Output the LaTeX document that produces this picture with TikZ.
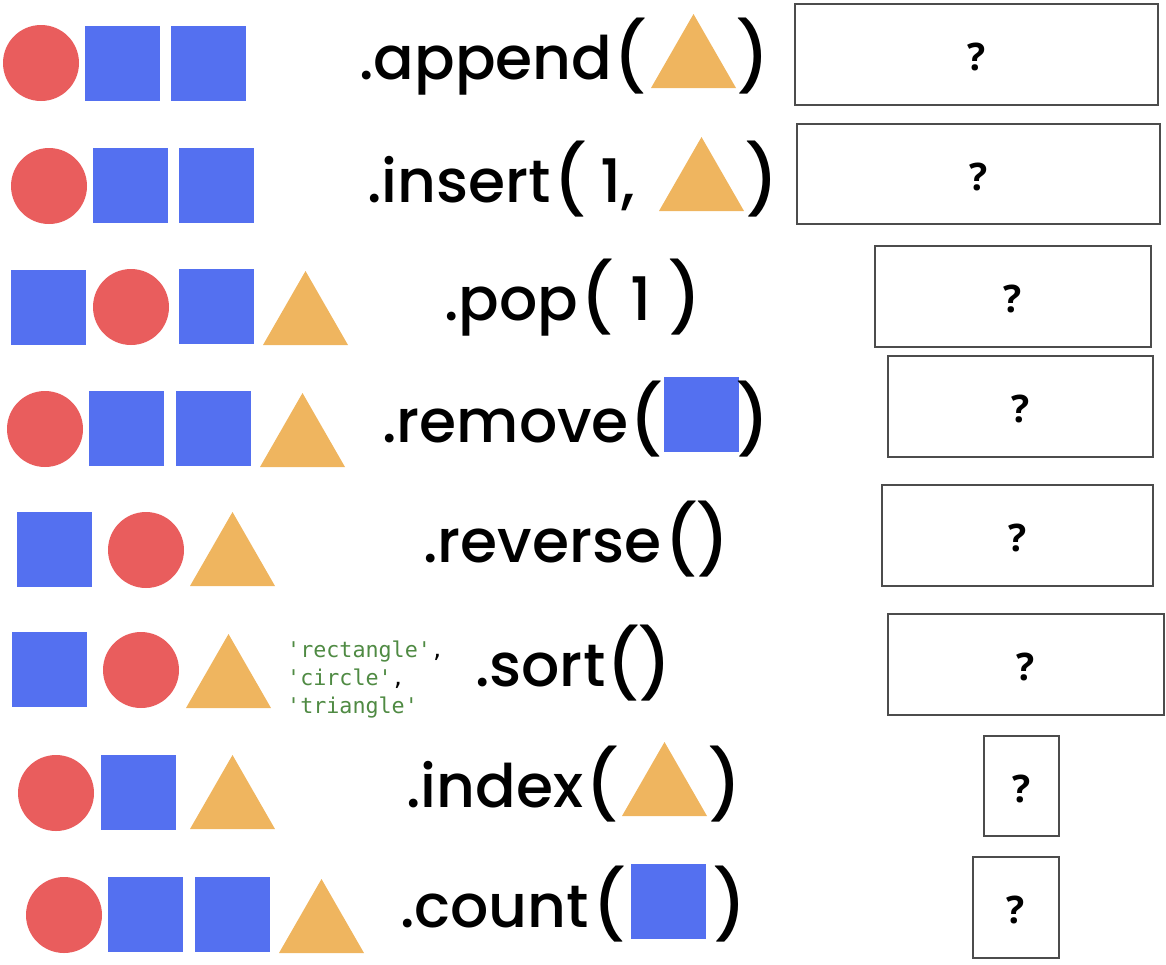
\documentclass[tikz,border=0pt]{standalone}
\usepackage{fontspec}
\setmainfont{Poppins Medium}
\newfontfamily\qfont{Open Sans}
\setmonofont{DejaVu Sans Mono}
\definecolor{shapered}{HTML}{E95D5D}
\definecolor{shapeblue}{HTML}{5470F0}
\definecolor{shapeyellow}{HTML}{EFB55F}
\definecolor{codegreen}{HTML}{4F8A43}
\tikzset{
  method/.style={anchor=base west,inner sep=0pt,font=\fontsize{60}{60}\selectfont,text=black},
  paren/.style={anchor=base west,inner sep=0pt,font=\fontsize{68}{68}\selectfont,text=black},
  answerbox/.style={draw=black!70,line width=1.5pt,inner sep=0pt,text height=32pt,text depth=0pt,font=\qfont\bfseries\fontsize{38}{38}\selectfont},
  codeline/.style={anchor=base west,inner sep=0pt,font=\ttfamily\fontsize{21.7}{24}\selectfont,text=codegreen},
}
\begin{document}
\begin{tikzpicture}[x=1pt,y=-1pt]
\useasboundingbox (0,0) rectangle (1166,964);
% Squares
\foreach \x/\y in {85/26,171/26,93/148,179/148,11/270,179/269,89/391,176/391,17/512,12/632,101/755,108/877,195/877,664/377,631/864}
  {\fill[shapeblue] (\x,\y) rectangle ++(75,75);}
% Circles
\foreach \x/\y in {41/63,49/186,131/307,45/429,146/550,141/670,56/793,64/915}
  {\fill[shapered] (\x,\y) circle (38);}
% Triangles
\foreach \x/\y in {263/345,260/467,190/586,186/708,190/829,279/953,651/88,659/211,622/816}
  {\fill[shapeyellow] (\x,\y) -- ++(85,0) -- ++(-42.5,-74) -- cycle;}
% Method labels
\node[method] (append) at (359,79) {.append};
\node[paren] (appendopen) at (613,81) {(};
\node[paren] (appendend) at (736,81) {)};
\node[method] (insert) at (367,202) {.insert};
\node[paren] (insertopen) at (553,204) {(};
\node[method] (insertone) at (600,202) {1,};
\node[paren] (insertend) at (745,204) {)};
\node[method] (pop) at (444,320) {.pop};
\node[paren] (popopen) at (580,322) {(};
\node[method] (popone) at (630,320) {1};
\node[paren] (popend) at (668,322) {)};
\node[method] (remove) at (382,442) {.remove};
\node[paren] (removeopen) at (629,444) {(};
\node[paren] (removeend) at (736,444) {)};
\node[method] (reverse) at (423,562) {.reverse};
\node[paren] (reverseopen) at (664,564) {(};
\node[paren] (reverseend) at (696,564) {)};
\node[method] (sort) at (475,686) {.sort};
\node[paren] (sortopen) at (606,688) {(};
\node[paren] (sortend) at (638,688) {)};
\node[method] (index) at (406,807) {.index};
\node[paren] (indexopen) at (585,809) {(};
\node[paren] (indexend) at (708,809) {)};
\node[method] (count) at (400,927) {.count};
\node[paren] (countopen) at (592,929) {(};
\node[paren] (countend) at (713,929) {)};
% Code text
\node[codeline] (rect) at (287,657) {'rectangle'\textcolor{black}{,}};
\node[codeline] (circ) at (287,685) {'circle'\textcolor{black}{,}};
\node[codeline] (tri) at (287,713) {'triangle'};
% Answer boxes
\foreach \i/\xa/\ya/\xb/\yb in {1/795/4/1158/105,2/797/124/1160/224,3/875/246/1151/347,4/888/356/1153/457,5/882/485/1153/586,6/888/614/1164/715,7/984/736/1059/836,8/973/857/1059/958}
  {\node[answerbox,minimum width={(\xb-\xa)*1pt},minimum height={(\yb-\ya)*1pt}] (box\i) at ({(\xa+\xb)/2},{(\ya+\yb)/2}) {?};}
\end{tikzpicture}
\end{document}
